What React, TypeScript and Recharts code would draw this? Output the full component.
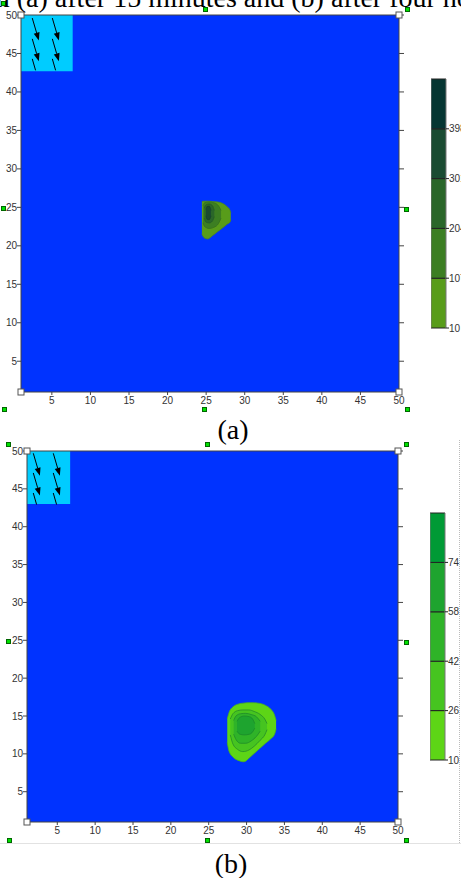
import {
  Area,
  CartesianGrid,
  ComposedChart,
  ReferenceArea,
  ReferenceDot,
  Scatter,
  XAxis,
  YAxis,
} from "recharts";

type Pt = { x: number; y: number };
type Band = { x: number; r: [number, number] };

// shared grid axes (cells 1..50)
const GRID_DOMAIN: [number, number] = [1, 50];
const GRID_TICKS = [5, 10, 15, 20, 25, 30, 35, 40, 45, 50];
const GRID_CORNERS: Pt[] = [
  { x: 1, y: 1 },
  { x: 1, y: 50 },
  { x: 50, y: 1 },
  { x: 50, y: 50 },
];

// (a) after 15 minutes
const sourceA = { x1: 1, x2: 7.7, y1: 42.7, y2: 50 };
const arrowsA: Pt[] = [
  { x: 2.46, y: 49.6 },
  { x: 5.06, y: 49.6 },
  { x: 2.46, y: 46.9 },
  { x: 5.06, y: 46.9 },
];
const stubsA: Pt[] = [
  { x: 2.46, y: 44.3 },
  { x: 5.06, y: 44.3 },
];
const plumeA1: Band[] = [
  { x: 24.45, r: [21.5, 25.75] },
  { x: 24.8, r: [21.0, 25.8] },
  { x: 25.2, r: [20.9, 25.8] },
  { x: 25.8, r: [21.3, 25.75] },
  { x: 26.5, r: [21.85, 25.7] },
  { x: 27.15, r: [22.35, 25.5] },
  { x: 27.7, r: [22.8, 25.1] },
  { x: 28.1, r: [23.1, 24.6] },
  { x: 28.2, r: [23.4, 24.3] },
];
const plumeA2: Band[] = [
  { x: 24.6, r: [23.0, 25.2] },
  { x: 24.8, r: [22.5, 25.6] },
  { x: 25.4, r: [22.25, 25.7] },
  { x: 26.0, r: [22.4, 25.6] },
  { x: 26.6, r: [22.9, 25.2] },
  { x: 26.93, r: [23.6, 24.6] },
];
const plumeA3: Band[] = [
  { x: 24.76, r: [23.6, 24.9] },
  { x: 24.95, r: [23.1, 25.3] },
  { x: 25.4, r: [22.97, 25.44] },
  { x: 25.8, r: [23.2, 25.25] },
  { x: 26.06, r: [23.8, 24.6] },
];
const plumeA4: Band[] = [
  { x: 24.98, r: [23.9, 24.7] },
  { x: 25.12, r: [23.45, 25.1] },
  { x: 25.4, r: [23.4, 25.14] },
  { x: 25.63, r: [23.9, 24.6] },
];
const levelsA = [10, 107, 204, 301, 398];
const levelTopA = 495;
const paletteA = ["#589c1a", "#3c7e22", "#2a6629", "#1a4b31", "#063632"];

// (b) after four hours
const sourceB = { x1: 1, x2: 6.7, y1: 43, y2: 50 };
const arrowsB: Pt[] = [
  { x: 1.83, y: 49.7 },
  { x: 4.47, y: 49.7 },
  { x: 1.83, y: 47.1 },
  { x: 4.47, y: 47.1 },
];
const stubsB: Pt[] = [
  { x: 1.83, y: 44.45 },
  { x: 4.47, y: 44.45 },
];
const plumeB1: Band[] = [
  { x: 27.45, r: [11.5, 14.6] },
  { x: 27.7, r: [10.3, 15.5] },
  { x: 28.2, r: [9.6, 16.2] },
  { x: 29.0, r: [9.1, 16.6] },
  { x: 29.6, r: [8.95, 16.7] },
  { x: 30.5, r: [9.6, 16.75] },
  { x: 31.5, r: [10.5, 16.7] },
  { x: 32.5, r: [11.4, 16.4] },
  { x: 33.2, r: [12.0, 15.9] },
  { x: 33.7, r: [12.6, 15.1] },
  { x: 33.9, r: [13.3, 14.4] },
];
const plumeB2: Band[] = [
  { x: 27.85, r: [12.5, 14.6] },
  { x: 28.2, r: [11.3, 15.3] },
  { x: 28.8, r: [10.6, 15.7] },
  { x: 29.5, r: [10.3, 15.8] },
  { x: 30.3, r: [10.5, 15.8] },
  { x: 31.0, r: [11.0, 15.6] },
  { x: 31.8, r: [11.8, 15.2] },
  { x: 32.4, r: [12.5, 14.6] },
  { x: 32.7, r: [13.2, 14.0] },
];
const plumeB3: Band[] = [
  { x: 28.3, r: [12.6, 14.4] },
  { x: 28.6, r: [11.9, 15.0] },
  { x: 29.2, r: [11.4, 15.3] },
  { x: 29.9, r: [11.4, 15.35] },
  { x: 30.6, r: [11.7, 15.2] },
  { x: 31.3, r: [12.3, 14.9] },
  { x: 31.8, r: [13.0, 14.3] },
];
const plumeB4: Band[] = [
  { x: 28.74, r: [13.0, 14.3] },
  { x: 29.1, r: [12.6, 14.8] },
  { x: 29.7, r: [12.5, 15.0] },
  { x: 30.4, r: [12.6, 14.9] },
  { x: 30.8, r: [12.9, 14.6] },
  { x: 31.08, r: [13.4, 14.0] },
];
const levelsB = [10, 26, 42, 58, 74];
const levelTopB = 90;
const paletteB = ["#5dd516", "#46c420", "#2fb328", "#1ea42f", "#009a35"];

const BLUE = "#0033ff";
const CYAN = "#00ccff";
const AXIS = "#444";
const TICK = { fontSize: 10, fill: "#333", fontFamily: "Liberation Sans, Arial, sans-serif" };

function Arrow(props: any) {
  const { cx, cy } = props;
  const dx = 6.6;
  const dy = 22.5;
  const len = Math.hypot(dx, dy);
  const ux = dx / len;
  const uy = dy / len;
  const hx = cx + dx;
  const hy = cy + dy;
  const bx = hx - ux * 8;
  const by = hy - uy * 8;
  const px = -uy * 3;
  const py = ux * 3;
  return (
    <g>
      <line x1={cx} y1={cy} x2={bx} y2={by} stroke="#000" strokeWidth={1} />
      <polygon
        points={`${hx},${hy} ${bx + px},${by + py} ${bx - px},${by - py}`}
        fill="#000"
      />
    </g>
  );
}

function Stub(props: any) {
  const { cx, cy } = props;
  return <line x1={cx} y1={cy} x2={cx + 3.3} y2={cy + 11.5} stroke="#000" strokeWidth={1} />;
}

function Handle(props: any) {
  const { cx, cy } = props;
  return <rect x={cx - 3} y={cy - 3} width={6} height={6} fill="#fff" stroke="#555" strokeWidth={1} />;
}

function FieldPanel({
  top,
  left,
  width,
  height,
  margin,
  source,
  arrows,
  stubs,
  plumes,
}: {
  top: number;
  left: number;
  width: number;
  height: number;
  margin: { top: number; right: number; bottom: number; left: number };
  source: { x1: number; x2: number; y1: number; y2: number };
  arrows: Pt[];
  stubs: Pt[];
  plumes: { data: Band[]; fill: string; stroke: string }[];
}) {
  return (
    <div style={{ position: "absolute", top, left }}>
      <ComposedChart width={width} height={height} margin={margin}>
        <CartesianGrid
          xAxisId="b"
          yAxisId="l"
          horizontal={false}
          vertical={false}
          fill={BLUE}
          fillOpacity={1}
        />
        <XAxis
          xAxisId="b"
          dataKey="x"
          type="number"
          domain={GRID_DOMAIN}
          ticks={GRID_TICKS}
          interval={0}
          allowDataOverflow
          height={18}
          tickSize={3}
          tickMargin={2}
          tick={TICK}
          stroke={AXIS}
        />
        <XAxis
          xAxisId="t"
          orientation="top"
          type="number"
          domain={GRID_DOMAIN}
          ticks={GRID_TICKS}
          interval={0}
          allowDataOverflow
          height={6}
          tickSize={5}
          tickFormatter={() => ""}
          stroke={AXIS}
        />
        <YAxis
          yAxisId="l"
          dataKey="y"
          type="number"
          domain={GRID_DOMAIN}
          ticks={GRID_TICKS}
          interval={0}
          allowDataOverflow
          width={21}
          tickSize={4}
          tickMargin={0}
          tick={TICK}
          stroke={AXIS}
        />
        <YAxis
          yAxisId="r"
          orientation="right"
          type="number"
          domain={GRID_DOMAIN}
          ticks={GRID_TICKS}
          interval={0}
          allowDataOverflow
          width={10}
          tickSize={5}
          tickFormatter={() => ""}
          stroke={AXIS}
        />
        <ReferenceArea
          xAxisId="b"
          yAxisId="l"
          {...source}
          fill={CYAN}
          fillOpacity={1}
          stroke="none"
        />
        {plumes.map((p, i) => (
          <Area
            key={i}
            xAxisId="b"
            yAxisId="l"
            data={p.data}
            dataKey="r"
            type="monotone"
            fill={p.fill}
            fillOpacity={1}
            stroke={p.stroke}
            strokeWidth={0.8}
            dot={false}
            activeDot={false}
            isAnimationActive={false}
          />
        ))}
        <Scatter xAxisId="b" yAxisId="l" data={arrows} shape={Arrow} isAnimationActive={false} />
        <Scatter xAxisId="b" yAxisId="l" data={stubs} shape={Stub} isAnimationActive={false} />
        {GRID_CORNERS.map((c, i) => (
          <ReferenceDot
            key={i}
            xAxisId="b"
            yAxisId="l"
            x={c.x}
            y={c.y}
            r={3}
            ifOverflow="visible"
            shape={Handle}
          />
        ))}
      </ComposedChart>
    </div>
  );
}

// legend bar: each class is a flat range area across a 0..1 strip
function ColorBar({
  top,
  left,
  height,
  levels,
  levelTop,
  palette,
}: {
  top: number;
  left: number;
  height: number;
  levels: number[];
  levelTop: number;
  palette: string[];
}) {
  const bands = levels.map((lo, i) => {
    const hi = i + 1 < levels.length ? levels[i + 1] : levelTop;
    return {
      fill: palette[i],
      data: [
        { x: 0, r: [lo, hi] },
        { x: 1, r: [lo, hi] },
      ],
    };
  });
  const domain: [number, number] = [levels[0], levelTop];
  return (
    <div style={{ position: "absolute", top, left }}>
      <ComposedChart width={40} height={height} margin={{ top: 5, right: 0, bottom: 10, left: 0 }}>
        <XAxis dataKey="x" type="number" domain={[0, 1]} hide />
        <YAxis
          yAxisId="edge"
          orientation="left"
          type="number"
          domain={domain}
          mirror
          tick={false}
          tickLine={false}
          axisLine={{ stroke: "#777" }}
        />
        <YAxis
          yAxisId="v"
          orientation="right"
          type="number"
          domain={domain}
          ticks={levels}
          interval={0}
          width={25}
          tickSize={3}
          tickMargin={0}
          axisLine={{ stroke: "#777" }}
          tickLine={{ stroke: "#222" }}
          tick={TICK}
        />
        {bands.map((b, i) => (
          <Area
            key={i}
            yAxisId="v"
            data={b.data}
            dataKey="r"
            type="linear"
            fill={b.fill}
            fillOpacity={1}
            stroke="#222"
            strokeWidth={1}
            dot={false}
            activeDot={false}
            isAnimationActive={false}
          />
        ))}
      </ComposedChart>
    </div>
  );
}

const handle = (x: number, y: number) => (
  <div
    key={`${x}-${y}`}
    style={{
      position: "absolute",
      left: x - 2,
      top: y - 2,
      width: 3,
      height: 3,
      background: "#00e000",
      border: "1px solid #006600",
    }}
  />
);

export default function App() {
  return (
    <div
      style={{
        position: "absolute",
        top: 0,
        left: 0,
        width: 461,
        height: 878,
        overflow: "hidden",
        background: "#fff",
      }}
    >
      <FieldPanel
        top={0}
        left={0}
        width={420}
        height={420}
        margin={{ top: 9, right: 11, bottom: 10, left: 0 }}
        source={sourceA}
        arrows={arrowsA}
        stubs={stubsA}
        plumes={[
          { data: plumeA1, fill: paletteA[0], stroke: "#4c8a18" },
          { data: plumeA2, fill: paletteA[1], stroke: "#356e1e" },
          { data: plumeA3, fill: paletteA[2], stroke: "#245a26" },
          { data: plumeA4, fill: paletteA[3], stroke: "#16402c" },
        ]}
      />
      <ColorBar top={74} left={431} height={264} levels={levelsA} levelTop={levelTopA} palette={paletteA} />

      <FieldPanel
        top={436}
        left={0}
        width={420}
        height={414}
        margin={{ top: 9, right: 12, bottom: 10, left: 6 }}
        source={sourceB}
        arrows={arrowsB}
        stubs={stubsB}
        plumes={[
          { data: plumeB1, fill: paletteB[0], stroke: "#4cb814" },
          { data: plumeB2, fill: paletteB[1], stroke: "#258a2a" },
          { data: plumeB3, fill: paletteB[2], stroke: "#1f8a2a" },
          { data: plumeB4, fill: paletteB[3], stroke: "#1a8a2a" },
        ]}
      />
      <ColorBar top={508} left={430} height={262} levels={levelsB} levelTop={levelTopB} palette={paletteB} />

      {/* frame of the lower screenshot */}
      <div style={{ position: "absolute", left: 459, top: 440, height: 403, borderLeft: "1px dotted #bbb" }} />
      <div style={{ position: "absolute", left: 0, top: 843, width: 461, borderTop: "1px solid #e2e2e2" }} />

      {[
        [3, 3], [205, 9], [407, 9],
        [3, 208], [406, 209],
        [4, 409], [204, 409], [407, 409],
        [8, 444], [207, 444], [406, 444],
        [8, 641], [406, 642],
        [9, 840], [207, 840], [406, 840],
      ].map(([x, y]) => handle(x, y))}

      <svg
        width={461}
        height={878}
        style={{ position: "absolute", top: 0, left: 0, pointerEvents: "none" }}
      >
        <g fontFamily="Liberation Serif, Times New Roman, serif" fontSize={28} fill="#000">
          <text x={-12} y={6.5}>in (a) after 15 minutes and (b) after four hours</text>
          <text x={233} y={439} textAnchor="middle">(a)</text>
          <text x={231} y={873} textAnchor="middle">(b)</text>
        </g>
      </svg>
    </div>
  );
}
